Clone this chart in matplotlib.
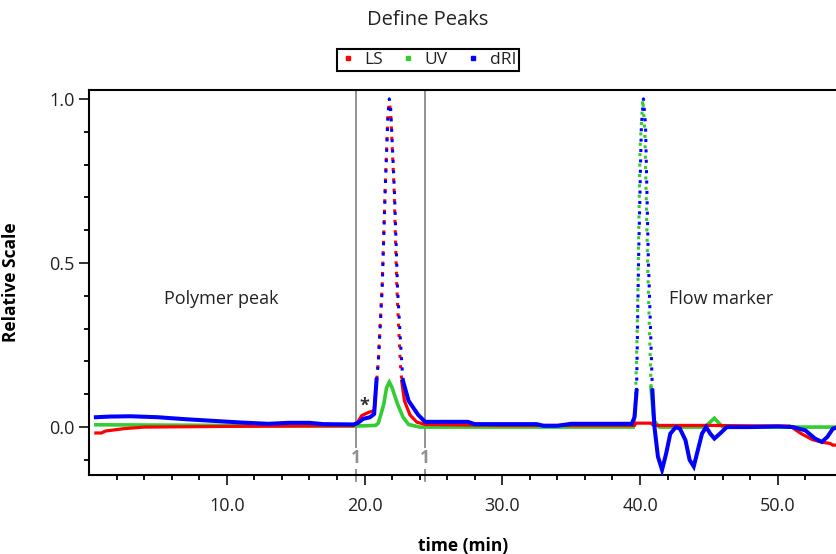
import numpy as np
import matplotlib
matplotlib.use("Agg")
import matplotlib.pyplot as plt
from matplotlib.lines import Line2D

plt.rcParams['font.family'] = ['Open Sans', 'DejaVu Sans']

# dRI (blue)
t_dri = [0.5, 1.5, 3.0, 5.0, 7.0, 9.0, 11.0, 13.0, 14.5, 16.0, 17.0, 19.2, 19.5, 19.9,
         20.4, 20.7, 20.87, 21.0, 21.28, 21.5, 21.7, 21.8, 21.9, 22.17, 22.4, 22.7, 22.8,
         23.2, 23.9, 24.4, 25.0, 27.5, 28.0, 32.5, 33.0, 34.0, 35.0, 39.4, 39.6, 39.75,
         39.9, 40.1, 40.25, 40.4, 40.6, 40.9, 41.05, 41.3, 41.6, 41.9, 42.2, 42.6, 42.9,
         43.3, 43.6, 43.9, 44.2, 44.5, 44.8, 45.1, 45.4, 45.8, 46.3, 48.0, 50.0, 51.1,
         52.0, 52.7, 53.2, 53.6, 54.0, 54.4]
v_dri = [0.030, 0.032, 0.033, 0.030, 0.024, 0.019, 0.014, 0.010, 0.013, 0.013, 0.009, 0.008,
         0.012, 0.025, 0.030, 0.040, 0.143, 0.195, 0.42, 0.72, 0.95, 1.0, 0.97, 0.72, 0.42,
         0.195, 0.14, 0.08, 0.037, 0.016, 0.016, 0.016, 0.009, 0.009, 0.004, 0.004, 0.010,
         0.010, 0.030, 0.11, 0.52, 0.92, 1.0, 0.92, 0.52, 0.11, 0.0, -0.09, -0.13, -0.08,
         -0.02, 0.0, -0.005, -0.04, -0.10, -0.12, -0.07, -0.02, 0.0, -0.02, -0.035, -0.02,
         0.0, 0.0, 0.002, 0.0, -0.01, -0.035, -0.045, -0.03, -0.005, 0.0]

# LS (red)
t_ls = [0.5, 0.9, 1.2, 2.5, 4.0, 10.0, 19.2, 19.5, 19.8, 20.3, 20.7, 20.8, 21.0, 21.28,
        21.5, 21.7, 21.8, 21.9, 22.15, 22.35, 22.6, 22.7, 22.9, 23.3, 23.8, 24.4, 30.0,
        39.6, 39.7, 40.8, 41.0, 45.0, 50.9, 51.7, 52.5, 53.2, 53.8, 54.0, 54.4]
v_ls = [-0.018, -0.018, -0.012, -0.005, 0.0, 0.002, 0.004, 0.015, 0.035, 0.045, 0.050,
        0.10, 0.20, 0.43, 0.73, 0.95, 0.99, 0.96, 0.72, 0.42, 0.195, 0.14, 0.08, 0.037,
        0.015, 0.008, 0.005, 0.005, 0.012, 0.012, 0.005, 0.005, 0.003, -0.02, -0.038,
        -0.046, -0.05, -0.055, -0.055]

# UV (green)
t_uv = [0.5, 10.0, 19.2, 20.8, 21.0, 21.2, 21.4, 21.6, 21.8, 22.0, 22.4, 22.8, 23.2, 24.0,
        39.5, 39.65, 39.8, 40.0, 40.2, 40.35, 40.55, 40.8, 41.0, 41.4, 44.7, 45.4, 46.0, 54.4]
v_uv = [0.007, 0.005, 0.003, 0.005, 0.012, 0.04, 0.07, 0.12, 0.137, 0.12, 0.07, 0.03, 0.008,
        0.0, 0.0, 0.05, 0.3, 0.85, 1.0, 0.9, 0.5, 0.12, 0.02, 0.0, 0.0, 0.027, 0.0, 0.0]

red = '#ff0000'
green = '#33cc33'
blue = '#0000ff'


def draw(ax, t, v, color, spans, z, off=0, lw=2.6):
    t = np.array(t)
    v = np.array(v, dtype=float)
    solid = v.copy()
    for a, b in spans:
        solid[(t > a) & (t < b)] = np.nan
        m = (t >= a) & (t <= b)
        ax.plot(t[m], v[m], color=color, lw=2.2, ls=(off, (1, 2.4)), zorder=z)
    ax.plot(t, solid, color=color, lw=lw, zorder=z, solid_joinstyle='miter')


fig = plt.figure(figsize=(8.37, 5.54), dpi=100)
ax = fig.add_axes([89 / 837, 1 - 475 / 554, 1 - 89 / 837, (475 - 90) / 554])

draw(ax, t_uv, v_uv, green, [(39.65, 40.8)], 2, off=1.7)
draw(ax, t_ls, v_ls, red, [(20.8, 22.7)], 3, off=1.7, lw=2.3)
draw(ax, t_dri, v_dri, blue, [(20.87, 22.8), (39.75, 40.9)], 4, lw=2.9)

# peak limits
for xv in [19.35, 24.42]:
    ax.axvline(xv, color='#808080', lw=1.2, zorder=1)
    ax.plot([xv, xv], [-0.146, -0.165], color='#808080', lw=1.2, clip_on=False)
    ax.text(xv, -0.095, '1', color='#909090', fontsize=12.5, fontweight='bold',
            ha='center', va='center', zorder=5,
            bbox=dict(facecolor='white', edgecolor='none', pad=1))

ax.text(20.0, 0.065, '*', fontsize=13, fontweight='bold', ha='center', va='center',
        color='#333333')
ax.text(9.6, 0.39, 'Polymer peak', fontsize=13, ha='center', va='center', color='#222222')
ax.text(45.9, 0.39, 'Flow marker', fontsize=13, ha='center', va='center', color='#222222')

ax.set_xlim(0, 54.3)
ax.set_ylim(-0.146, 1.027)
ax.set_xticks([10, 20, 30, 40, 50])
ax.set_xticklabels(['10.0', '20.0', '30.0', '40.0', '50.0'])
ax.set_xticks(np.arange(2, 54, 2), minor=True)
ax.set_yticks([0.0, 0.5, 1.0])
ax.set_yticklabels(['0.0', '0.5', '1.0'])
ax.set_yticks(np.arange(-0.1, 1.01, 0.1), minor=True)
ax.tick_params(which='major', direction='out', length=7.5, width=1.3, labelsize=13,
               colors='#222222')
ax.tick_params(axis='x', which='major', pad=8)
ax.tick_params(axis='y', which='major', pad=3)
ax.tick_params(which='minor', direction='out', length=3.5, width=1.3)
ax.spines['right'].set_visible(False)
for s in ['left', 'bottom', 'top']:
    ax.spines[s].set_linewidth(1.5)

ax.set_xlabel('time (min)', fontsize=12.5, fontweight='bold')
ax.set_ylabel('Relative Scale', fontsize=12.5, fontweight='bold')
ax.xaxis.set_label_coords(0.5, -0.162)
ax.yaxis.set_label_coords(-0.092, 0.5)

fig.text(428 / 837, 1 - 20 / 554, 'Define Peaks', fontsize=14.5, ha='center', va='center',
         color='#222222')

handles = [Line2D([], [], marker='s', ls='none', color=c, markersize=2.3)
           for c in [red, green, blue]]
leg = fig.legend(handles, ['LS', 'UV', 'dRI'], loc='center', ncol=3,
                 bbox_to_anchor=(428 / 837, 1 - 60 / 554), fancybox=False,
                 edgecolor='black', fontsize=12.5, handlelength=0.9, handletextpad=0.5,
                 columnspacing=1.0, borderpad=0.15, framealpha=1,
                 labelcolor='#222222')
leg.get_frame().set_linewidth(1.5)

fig.savefig('out.png', dpi=100)
